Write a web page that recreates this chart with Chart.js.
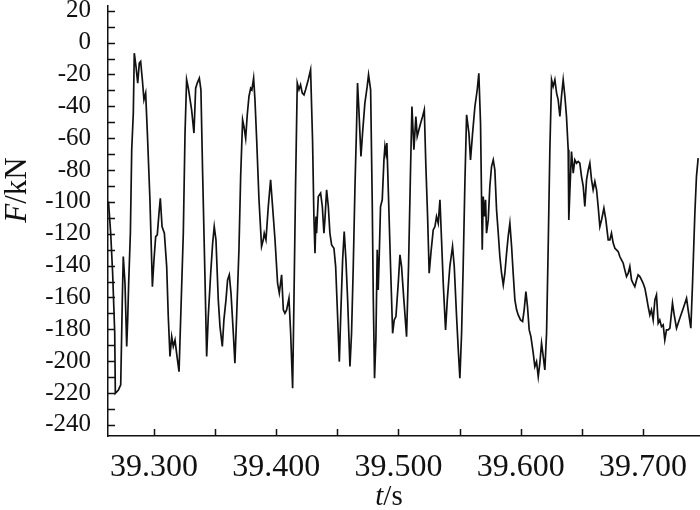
<!DOCTYPE html>
<html>
<head>
<meta charset="utf-8">
<script src="https://cdn.jsdelivr.net/npm/chart.js@4"></script>
<style>
  html, body { margin: 0; padding: 0; background: #fff; }
  #chart { display: block; }
</style>
</head>
<body>
<canvas id="chart" width="700" height="510"></canvas>
<script>
// ── Data ──

const tValues = [
  39.2628, 39.2646, 39.2662, 39.2679, 39.2684, 39.2709, 39.2728, 39.2741, 39.2749, 39.2763,
  39.2777, 39.2785, 39.2793, 39.2807, 39.2818, 39.2831, 39.2839, 39.2853, 39.2867, 39.2880,
  39.2891, 39.2905, 39.2918, 39.2932, 39.2946, 39.2967, 39.2981, 39.2987, 39.3000, 39.3014,
  39.3027, 39.3041, 39.3052, 39.3066, 39.3085, 39.3104, 39.3117, 39.3131, 39.3145, 39.3158,
  39.3172, 39.3185, 39.3205, 39.3218, 39.3240, 39.3254, 39.3267, 39.3281, 39.3308, 39.3327,
  39.3341, 39.3354, 39.3371, 39.3384, 39.3398, 39.3417, 39.3431, 39.3444, 39.3464, 39.3480,
  39.3493, 39.3507, 39.3526, 39.3540, 39.3559, 39.3572, 39.3589, 39.3602, 39.3616, 39.3630,
  39.3649, 39.3662, 39.3676, 39.3695, 39.3709, 39.3725, 39.3736, 39.3750, 39.3763, 39.3777,
  39.3791, 39.3801, 39.3815, 39.3826, 39.3840, 39.3859, 39.3880, 39.3894, 39.3902, 39.3916,
  39.3935, 39.3954, 39.3970, 39.3990, 39.4011, 39.4025, 39.4044, 39.4058, 39.4071, 39.4085,
  39.4104, 39.4118,
  39.4134, 39.4145, 39.4158, 39.4172, 39.4186, 39.4199, 39.4213, 39.4227, 39.4240, 39.4262,
  39.4281, 39.4297, 39.4308, 39.4317, 39.4325, 39.4330, 39.4344, 39.4363, 39.4377, 39.4390,
  39.4398, 39.4412, 39.4426, 39.4439, 39.4453, 39.4472, 39.4486, 39.4502, 39.4516, 39.4529,
  39.4543, 39.4556, 39.4570, 39.4584, 39.4603, 39.4616, 39.4630, 39.4644, 39.4657, 39.4665,
  39.4676, 39.4693, 39.4706, 39.4725, 39.4744, 39.4755, 39.4772, 39.4785, 39.4794, 39.4804,
  39.4815, 39.4826, 39.4834, 39.4843, 39.4853, 39.4867, 39.4881, 39.4889, 39.4897, 39.4905,
  39.4919, 39.4935, 39.4952, 39.4965, 39.4979, 39.4998, 39.5012, 39.5025, 39.5044, 39.5066,
  39.5082, 39.5099, 39.5110, 39.5126, 39.5142, 39.5153, 39.5167, 39.5181, 39.5197, 39.5211,
  39.5224, 39.5238, 39.5251, 39.5265, 39.5284, 39.5298, 39.5311, 39.5325, 39.5339, 39.5352,
  39.5366, 39.5385, 39.5399, 39.5420, 39.5442, 39.5456, 39.5475, 39.5489, 39.5502, 39.5516,
  39.5529, 39.5543, 39.5557, 39.5576, 39.5589, 39.5606, 39.5625, 39.5644, 39.5657, 39.5671,
  39.5685, 39.5693, 39.5704, 39.5712, 39.5720, 39.5734, 39.5747, 39.5761, 39.5775, 39.5788,
  39.5802, 39.5816, 39.5829, 39.5843, 39.5857, 39.5870, 39.5884, 39.5897, 39.5911, 39.5925,
  39.5938, 39.5952, 39.5966, 39.5979, 39.5998, 39.6015, 39.6028, 39.6042, 39.6055, 39.6069,
  39.6083, 39.6102, 39.6115, 39.6129, 39.6143, 39.6156, 39.6170, 39.6184, 39.6197, 39.6211,
  39.6224, 39.6238, 39.6252, 39.6265, 39.6279, 39.6293, 39.6306, 39.6320, 39.6333, 39.6347,
  39.6361, 39.6374, 39.6388, 39.6393, 39.6402, 39.6415, 39.6429, 39.6442, 39.6456, 39.6470,
  39.6483, 39.6497, 39.6511, 39.6524, 39.6538, 39.6552, 39.6565, 39.6579, 39.6592, 39.6606,
  39.6620, 39.6633, 39.6647, 39.6661, 39.6680, 39.6696, 39.6715, 39.6729, 39.6742, 39.6756,
  39.6770, 39.6783, 39.6797, 39.6810, 39.6824, 39.6838, 39.6851, 39.6865, 39.6879, 39.6892,
  39.6906, 39.6919, 39.6933, 39.6947, 39.6960, 39.6974, 39.6988, 39.7001, 39.7015, 39.7028,
  39.7042, 39.7056, 39.7069, 39.7083, 39.7097, 39.7110, 39.7124, 39.7137, 39.7151, 39.7165,
  39.7178, 39.7192, 39.7206, 39.7220, 39.7241, 39.7255, 39.7274, 39.7296, 39.7315, 39.7334,
  39.7356, 39.7369, 39.7391, 39.7405, 39.7413, 39.7424, 39.7437, 39.7451,
];

const fValues = [
  -99.8, -119.7, -144.8, -182.5, -220.2, -218.1, -214.9, -161.5, -134.3, -151.1,
  -190.8, -174.1, -151.1, -119.7, -67.3, -44.3, -6.6, -15.0, -25.4, -12.9,
  -11.8, -23.3, -35.9, -31.7, -56.8, -98.7, -136.4, -153.2, -136.4, -121.8,
  -120.7, -107.1, -97.7, -115.5, -119.7, -140.6, -172.0, -197.1, -184.6, -190.8,
  -186.7, -195.0, -206.6, -174.1, -119.7, -56.8, -23.3, -28.6, -42.2, -56.8,
  -28.6, -25.4, -22.3, -29.6, -82.0, -146.9, -197.1, -172.0, -144.8, -125.9,
  -115.5, -123.8, -161.5, -178.3, -190.8, -174.1, -161.5, -149.0, -145.8, -157.3,
  -182.5, -201.3, -172.0, -130.1, -84.1, -48.5, -52.7, -60.0, -45.3, -33.8,
  -28.6, -29.6, -22.3, -35.9, -61.0, -98.7, -128.0, -123.8, -119.7, -123.8,
  -102.9, -86.2, -102.9, -123.8, -151.1, -157.3, -145.8, -167.8, -169.9, -167.8,
  -160.5, -182.5,
  -217.0, -161.5, -90.3, -25.4, -29.6, -26.5, -31.7, -32.8, -29.6, -23.3,
  -17.1, -61.0, -109.2, -132.2, -109.2, -119.7, -96.6, -94.5, -102.9, -119.7,
  -111.3, -92.4, -102.9, -119.7, -127.0, -129.1, -140.6, -172.0, -200.3, -167.8,
  -136.4, -118.6, -136.4, -161.5, -203.4, -182.5, -140.6, -90.3, -52.7, -25.4,
  -42.2, -71.5, -56.8, -38.0, -27.5, -20.2, -29.6, -98.7, -161.5, -210.7,
  -186.7, -130.1, -155.3, -132.2, -102.9, -98.7, -73.6, -65.2, -69.4, -63.1,
  -98.7, -140.6, -182.5, -174.1, -172.0, -151.1, -133.3, -140.6, -161.5, -184.6,
  -140.6, -77.8, -40.1, -67.3, -46.4, -58.9, -54.7, -50.6, -46.4, -42.2,
  -77.8, -109.2, -144.8, -132.2, -117.6, -115.5, -109.2, -113.4, -98.7, -123.8,
  -151.1, -180.4, -161.5, -140.6, -128.0, -140.6, -172.0, -192.9, -210.7, -182.5,
  -140.6, -88.2, -45.3, -56.8, -73.6, -56.8, -40.1, -29.6, -19.2, -50.6,
  -130.1, -96.6, -109.2, -98.7, -119.7, -111.3, -90.3, -77.8, -73.6, -79.9,
  -105.0, -119.7, -134.3, -144.8, -152.1, -144.8, -132.2, -121.8, -113.4, -128.0,
  -144.8, -161.5, -167.8, -171.0, -174.1, -175.1, -167.8, -156.3, -165.7, -180.4,
  -184.6, -195.0, -203.4, -200.3, -209.7, -201.3, -188.8, -197.1, -205.5, -182.5,
  -130.1, -67.3, -23.3, -27.5, -23.3, -31.7, -35.9, -46.4, -33.8, -23.3,
  -33.8, -46.4, -67.3, -111.3, -92.4, -68.4, -82.0, -73.6, -75.7, -74.6,
  -75.7, -84.1, -90.3, -102.9, -86.2, -79.9, -75.7, -86.2, -92.4, -87.2,
  -92.4, -102.9, -115.5, -111.3, -104.0, -111.3, -123.8, -123.8, -119.7, -125.9,
  -129.1, -130.1, -131.2, -134.3, -136.4, -138.5, -142.7, -146.9, -144.8, -140.6,
  -149.0, -151.1, -153.2, -149.0, -145.8, -146.9, -149.0, -151.1, -154.2, -159.4,
  -165.7, -171.0, -167.8, -174.1, -161.5, -158.4, -176.2, -174.1, -178.3, -177.2,
  -186.7, -180.4, -180.4, -179.3, -163.6, -171.0, -179.3, -174.1, -169.9, -165.7,
  -160.5, -167.8, -179.3, -151.1, -132.2, -107.1, -84.1, -72.5,
];

const xTickValues = [39.30, 39.35, 39.40, 39.45, 39.50, 39.55, 39.60, 39.65, 39.70];
const xTickLabels = ['39.300', '', '39.400', '', '39.500', '', '39.600', '', '39.700'];
const yTickValues = [-240, -230, -220, -210, -200, -190, -180, -170, -160, -150, -140, -130,
  -120, -110, -100, -90, -80, -70, -60, -50, -40, -30, -20, -10, 0, 10, 20];
const yTickLabels = yTickValues.map(v => (v % 20 === 0 ? String(v) : ''));

// ── Helpers ──

const SERIF = "'Liberation Serif', 'Times New Roman', serif";

// inward tick marks + mixed italic axis titles
const innerTicks = {
  id: 'innerTicks',
  afterDraw(chart) {
    const { ctx, chartArea: a, scales: { x, y } } = chart;
    ctx.save();
    ctx.strokeStyle = '#111';
    ctx.lineWidth = 1.5;
    ctx.beginPath();
    x.ticks.forEach(tk => {
      const px = Math.round(x.getPixelForValue(tk.value)) + 0.5;
      ctx.moveTo(px, a.bottom);
      ctx.lineTo(px, a.bottom - 7);
    });
    y.ticks.forEach(tk => {
      const py = Math.round(y.getPixelForValue(tk.value)) + 0.5;
      ctx.moveTo(a.left, py);
      ctx.lineTo(a.left + 7, py);
    });
    ctx.stroke();

    ctx.fillStyle = '#111';
    ctx.textBaseline = 'alphabetic';

    // y title: F/kN, rotated
    ctx.save();
    ctx.translate(26, 190);
    ctx.rotate(-Math.PI / 2);
    drawMixed(ctx, [['F', true], ['/kN', false]], 31);
    ctx.restore();

    // x title: t/s
    ctx.save();
    ctx.translate(389, 505);
    drawMixed(ctx, [['t', true], ['/s', false]], 29);
    ctx.restore();

    ctx.restore();
  },
};

function drawMixed(ctx, parts, size) {
  const fonts = parts.map(([, it]) => `${it ? 'italic ' : ''}${size}px ${SERIF}`);
  const widths = parts.map(([s], i) => { ctx.font = fonts[i]; return ctx.measureText(s).width; });
  let x = -widths.reduce((a, b) => a + b, 0) / 2;
  parts.forEach(([s], i) => {
    ctx.font = fonts[i];
    ctx.fillText(s, x, 0);
    x += widths[i];
  });
}

// ── Chart ──

new Chart(document.getElementById('chart'), {
  type: 'line',
  data: {
    datasets: [{
      data: tValues.map((t, i) => ({ x: t, y: fValues[i] })),
      borderColor: '#111',
      borderWidth: 1.7,
      pointRadius: 0,
      tension: 0,
      fill: false,
    }],
  },
  options: {
    responsive: false,
    animation: false,
    devicePixelRatio: 1,
    layout: { padding: { top: 6, right: 0, left: 0, bottom: 0 } },
    plugins: { legend: { display: false }, tooltip: { enabled: false } },
    scales: {
      x: {
        type: 'linear',
        min: 39.2624,
        max: 39.7466,
        afterBuildTicks: s => { s.ticks = xTickValues.map(v => ({ value: v })); },
        afterFit: s => { s.height = 74; s.paddingLeft = 0; s.paddingRight = 0; },
        ticks: {
          autoSkip: false,
          maxRotation: 0,
          padding: 4,
          color: '#111',
          font: { family: SERIF, size: 32 },
          callback: (v, i) => xTickLabels[i],
        },
        grid: { display: false },
        border: { display: true, color: '#111', width: 1.5 },
      },
      y: {
        min: -247,
        max: 23,
        afterBuildTicks: s => { s.ticks = yTickValues.map(v => ({ value: v })); },
        afterFit: s => { s.width = 108; s.paddingTop = 0; s.paddingBottom = 0; },
        ticks: {
          autoSkip: false,
          padding: 9,
          color: '#111',
          font: { family: SERIF, size: 25 },
          callback: (v, i) => yTickLabels[i],
        },
        grid: { display: false },
        border: { display: true, color: '#111', width: 1.5 },
      },
    },
  },
  plugins: [innerTicks],
});
</script>
</body>
</html>
